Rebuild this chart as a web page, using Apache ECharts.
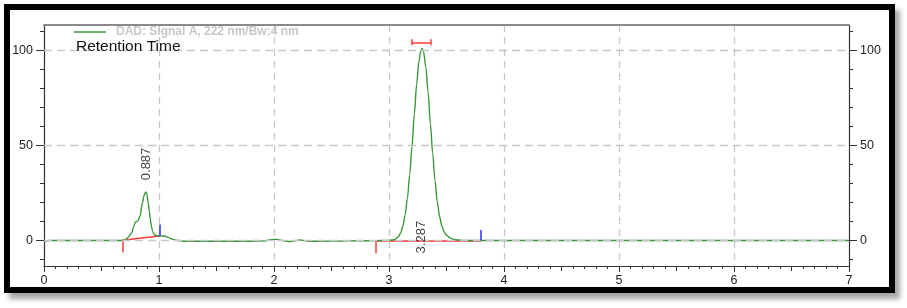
<!DOCTYPE html>
<html>
<head>
<meta charset="utf-8">
<script src="https://cdn.jsdelivr.net/npm/echarts@6/dist/echarts.min.js"></script>
<style>
html,body{margin:0;padding:0;background:#fff;width:907px;height:308px;overflow:hidden;}
#frame{position:absolute;left:4px;top:4px;width:891px;height:289px;box-sizing:border-box;border:6px solid #000;background:#fff;box-shadow:5px 6px 5px rgba(0,0,0,0.35);}
#chart{position:absolute;left:0;top:0;width:907px;height:308px;}
</style>
</head>
<body>
<div id="frame"></div>
<div id="chart"></div>
<script>
// ---- data ----
const seriesName = 'DAD: Signal A, 222 nm/Bw:4 nm';
const titleText = 'Retention Time';
const times = [0.00,0.05,0.30,0.60,0.66,0.70,0.72,0.74,0.76,0.78,0.795,0.815,0.835,0.855,0.870,0.880,0.887,0.895,0.905,0.915,0.925,0.935,0.945,0.955,0.968,0.985,1.003,1.025,1.05,1.075,1.10,1.13,1.17,1.21,1.50,1.80,1.92,1.97,2.02,2.06,2.10,2.14,2.18,2.22,2.26,2.30,2.50,2.80,2.95,3.00,3.05,3.08,3.10,3.12,3.14,3.16,3.18,3.20,3.22,3.24,3.26,3.275,3.287,3.30,3.32,3.34,3.36,3.38,3.40,3.42,3.44,3.46,3.48,3.50,3.53,3.56,3.60,3.65,3.70,4.00,5.00,6.00,7.00];
const signal = [-0.3,0.0,0.0,0.0,0.05,0.3,1.0,2.4,3.8,7.2,9.8,10.2,12.8,19.6,23.6,25.2,25.5,24.2,20.3,15.6,11.0,7.2,4.8,3.5,2.8,2.5,2.4,2.3,2.4,1.8,1.1,0.5,0.0,-0.4,-0.4,-0.4,-0.2,0.5,0.6,0.2,-0.3,-0.5,-0.2,0.3,0.1,-0.4,-0.3,-0.1,0.0,0.1,0.5,1.8,3.8,7.4,13.3,22.3,34.6,49.6,66.3,82.0,94.3,99.3,101.0,99.4,91.4,78.2,61.3,45.8,31.5,20.3,12.5,7.5,4.5,2.8,1.4,0.7,0.3,0.1,0.0,0.0,0.0,0.0,0.0];
const xTickLabels = [0,1,2,3,4,5,6,7];
const yLabelValues = [0,50,100];
const yMinorValues = [-10,10,20,30,40,60,70,80,90,110];
const gridYValues = [0,50,100];
// integration marks (red: baseline/start, blue: end)
const redSegments = [
  [[0.681,0.2],[1.003,2.4]],
  [[0.681,0.2],[0.681,-6.2]],
  [[2.887,0],[3.80,0]],
  [[2.887,0],[2.887,-6.7]],
  [[3.197,104.3],[3.359,104.3]],
  [[3.197,102.7],[3.197,105.9]],
  [[3.359,102.7],[3.359,105.9]]
];
const blueSegments = [
  [[1.003,2.4],[1.003,8.5]],
  [[3.80,0],[3.80,5.5]]
];
const peakTimes = ['0.887','3.287'];
const peakLabelX = [0.893,3.284];
const peakLabelY = [40.3,1.8];

// ---- chart ----
const Y_MIN = -13.4, Y_MAX = 113.4;
const axisColor = '#333';
const labelColor = '#1e1e1e';
const gridLine = {show:true, lineStyle:{color:'#c8c8c8', width:1.3, type:[7,5]}};
const font = 'Liberation Sans, Arial, sans-serif';

function yAxisMain(pos){
  return {type:'value', position:pos, min:Y_MIN, max:Y_MAX,
    axisLine:{show:true, onZero:false, lineStyle:{color:axisColor, width:1.2}},
    axisTick:{show:true, inside:false, length:8, customValues:yLabelValues, lineStyle:{color:axisColor, width:1}},
    axisLabel:{show:true, customValues:yLabelValues, margin:11, fontSize:12.5, color:labelColor, fontFamily:font},
    splitLine:{show:false}};
}
function yAxisMinor(pos){
  return {type:'value', position:pos, min:Y_MIN, max:Y_MAX,
    axisLine:{show:false, onZero:false},
    axisTick:{show:true, inside:false, length:4, customValues:yMinorValues, lineStyle:{color:axisColor, width:1}},
    axisLabel:{show:false}, splitLine:{show:false}};
}

const chart = echarts.init(document.getElementById('chart'), null, {renderer:'canvas'});
const option = {
  backgroundColor:'transparent',
  animation:false,
  title:{text:titleText, left:76, top:39, padding:0,
    textStyle:{fontSize:15.5, fontWeight:'normal', color:'#111', fontFamily:font}},
  legend:{data:[seriesName], left:74, top:26, padding:0, icon:'rect', itemWidth:32, itemHeight:1.5,
    textStyle:{fontSize:12, fontWeight:'bold', color:'#c8c8c8', fontFamily:font, padding:[0,0,0,5]}},
  grid:{left:44, right:58, top:25, bottom:42, containLabel:false},
  xAxis:[
    {type:'value', position:'bottom', min:0, max:7, interval:1,
      axisLine:{show:true, onZero:false, lineStyle:{color:axisColor, width:1.2}},
      axisTick:{show:true, inside:false, length:6, lineStyle:{color:axisColor}},
      minorTick:{show:true, splitNumber:10, length:3, lineStyle:{color:axisColor}},
      axisLabel:{show:true, margin:8, fontSize:12.5, color:labelColor, fontFamily:font,
        customValues:xTickLabels},
      splitLine:Object.assign({showMinLine:false, showMaxLine:false}, gridLine)},
    {type:'value', position:'bottom', min:0, max:7, interval:0.5,
      axisLine:{show:false, onZero:false}, axisTick:{show:true, inside:false, length:5, lineStyle:{color:axisColor}},
      axisLabel:{show:false}, splitLine:{show:false}},
    {type:'value', position:'top', min:0, max:7,
      axisLine:{show:true, onZero:false, lineStyle:{color:'#8a8a8a', width:2}},
      axisTick:{show:false}, axisLabel:{show:false}, splitLine:{show:false}}
  ],
  yAxis:[yAxisMain('left'), yAxisMinor('left'), yAxisMain('right'), yAxisMinor('right')],
  series:[
    {name:'grid', type:'line', data:[], silent:true,
      markLine:{silent:true, symbol:'none', label:{show:false},
        lineStyle:{color:'#c8c8c8', width:1.3, type:[8,5]},
        data:gridYValues.map(v=>({yAxis:v}))}},
    {name:'red', type:'lines', coordinateSystem:'cartesian2d', silent:true, z:3,
      lineStyle:{color:'#ff3b3b', width:1.5, opacity:1},
      data:redSegments.map(s=>({coords:s}))},
    {name:seriesName, type:'line', showSymbol:false, symbol:'none', z:4,
      smooth:0.3, smoothMonotone:'x',
      lineStyle:{color:'#3a963a', width:1.4}, itemStyle:{color:'#3a963a'},
      data:times.map((t,i)=>[t,signal[i]])},
    {name:'blue', type:'lines', coordinateSystem:'cartesian2d', silent:true, z:5,
      lineStyle:{color:'#2f2fff', width:1.5, opacity:1},
      data:blueSegments.map(s=>({coords:s}))},
    {name:'labels', type:'scatter', symbol:'circle', symbolSize:2, z:6, silent:true,
      itemStyle:{color:'rgba(0,0,0,0)'},
      label:{show:true, position:'inside', rotate:90, fontSize:13, color:'#111', fontFamily:font,
        formatter:'{b}'},
      labelLayout:{hideOverlap:false},
      data:peakTimes.map((s,i)=>({name:s, value:[peakLabelX[i], peakLabelY[i]]}))}
  ]
};
chart.setOption(option);
</script>
</body>
</html>
